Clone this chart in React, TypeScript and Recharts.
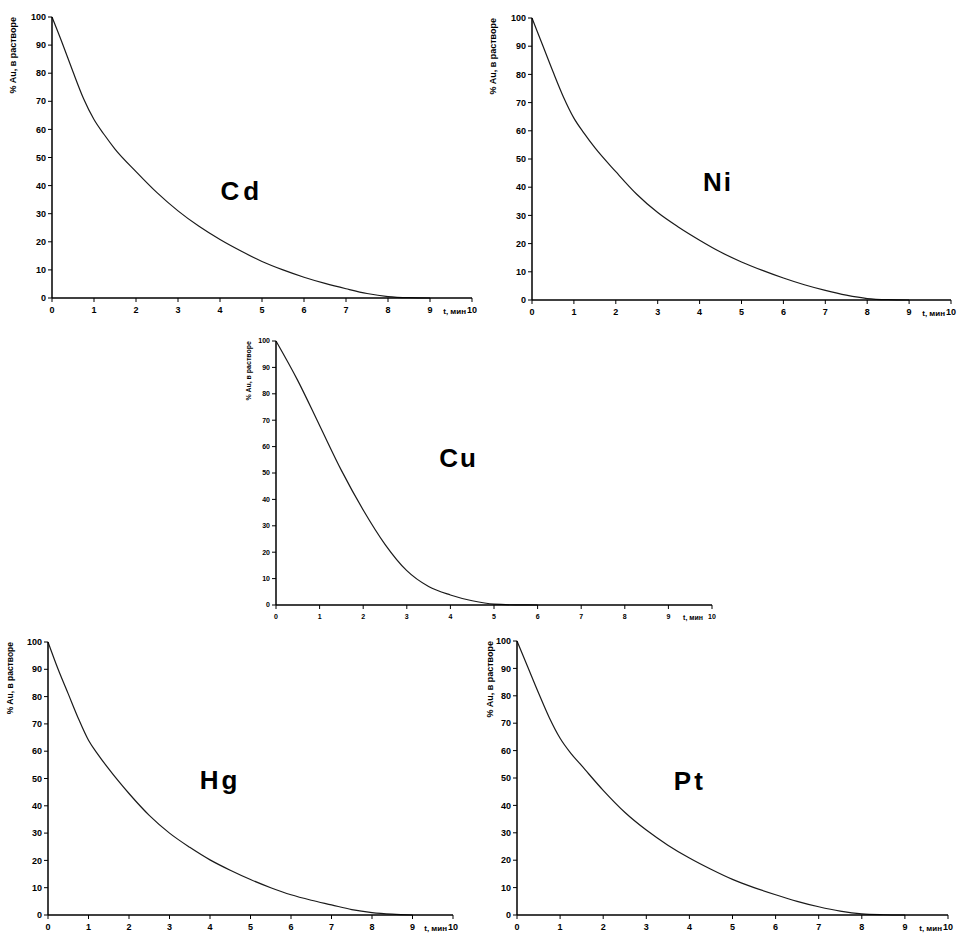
import React from 'react';
import { LineChart, Line, XAxis, YAxis, ReferenceDot, Label } from 'recharts';

// ---- data ----
const timesMain = [0, 0.25, 0.5, 0.75, 1, 1.25, 1.5, 2, 2.5, 3, 3.5, 4, 4.5, 5, 5.5, 6, 6.5, 7, 7.5, 8, 8.5, 9];
const cdValues = [100, 90.5, 80.5, 71, 63.5, 58, 53, 45, 37.5, 31, 25.5, 20.8, 16.7, 13, 10, 7.4, 5.2, 3.3, 1.6, 0.5, 0.1, 0];
const niValues = [100, 90.5, 81, 72, 64.5, 59, 54, 45.5, 37.5, 31, 25.8, 21.2, 17, 13.5, 10.5, 7.8, 5.4, 3.4, 1.7, 0.5, 0.1, 0];
const hgValues = [100, 90, 81, 72, 64, 58.5, 53.5, 44.5, 36.5, 30, 24.8, 20.2, 16.4, 13, 10, 7.4, 5.4, 3.7, 2, 0.9, 0.3, 0];
const ptValues = [100, 90.5, 81, 72, 64.5, 59, 54.5, 45.5, 37.5, 31, 25.5, 20.8, 16.7, 13, 10, 7.4, 5, 3, 1.4, 0.4, 0.1, 0];

const timesCu = [0, 0.5, 1, 1.5, 2, 2.5, 3, 3.5, 4, 4.5, 5, 5.5, 6];
const cuValues = [100, 85, 68, 51, 36, 23, 13, 7, 3.8, 1.6, 0.3, 0.05, 0];

const xTicks = [0, 1, 2, 3, 4, 5, 6, 7, 8, 9, 10];
const yTicks = [0, 10, 20, 30, 40, 50, 60, 70, 80, 90, 100];
const yAxisTitle = '% Au, в растворе';
const xAxisTitle = 't, мин';

const FONT = '"Liberation Sans", Arial, sans-serif';

type PanelProps = {
  times: number[];
  values: number[];
  x0: number;
  x10: number;
  y100: number;
  y0: number;
  name: string;
  nameX: number;
  nameY: number;
  nameSpacing: number;
  tickFont: number;
  yLabelDx: number;
  yLabelSize: number;
  xLabelGap: number;
  xLabelSize: number;
};

function Panel(p: PanelProps) {
  const yAxisW = 46;
  const mTop = 8;
  const mRight = 6;
  const mBottom = 4;
  const xAxisH = 20;
  const left = p.x0 - yAxisW;
  const top = p.y100 - mTop;
  const width = p.x10 - p.x0 + yAxisW + mRight;
  const height = p.y0 - p.y100 + mTop + xAxisH + mBottom;
  const data = p.times.map((t, i) => ({ t, v: p.values[i] }));
  const tickStyle = { fontSize: p.tickFont, fill: '#000', fontFamily: FONT, fontWeight: 'bold' as const };

  const yLabel = (props: any) => {
    const vb = props.viewBox || {};
    const cx = vb.x + vb.width - p.yLabelDx;
    const ty = vb.y;
    return (
      <text
        x={cx}
        y={ty}
        transform={`rotate(-90, ${cx}, ${ty})`}
        textAnchor="end"
        dominantBaseline="central"
        fontSize={p.yLabelSize}
        fontFamily={FONT}
        fontWeight="bold"
        fill="#000"
      >
        {yAxisTitle}
      </text>
    );
  };

  const xLabel = (props: any) => {
    const vb = props.viewBox || {};
    const ex = vb.x + vb.width - p.xLabelGap;
    const ty = vb.y + 10;
    return (
      <text
        x={ex}
        y={ty}
        dy="0.71em"
        textAnchor="end"
        fontSize={p.xLabelSize}
        fontFamily={FONT}
        fontWeight="bold"
        fill="#000"
      >
        {xAxisTitle}
      </text>
    );
  };

  return (
    <div style={{ position: 'absolute', left, top, width, height }}>
      <LineChart width={width} height={height} data={data} margin={{ top: mTop, right: mRight, bottom: mBottom, left: 0 }}>
        <XAxis
          dataKey="t"
          type="number"
          domain={[0, 10]}
          ticks={xTicks}
          interval={0}
          height={xAxisH}
          axisLine={{ stroke: '#000', strokeWidth: 1.5 }}
          tickLine={{ stroke: '#000' }}
          tickSize={4}
          tickMargin={5}
          tick={tickStyle}
        >
          <Label content={xLabel} />
        </XAxis>
        <YAxis
          type="number"
          domain={[0, 100]}
          ticks={yTicks}
          interval={0}
          width={yAxisW}
          axisLine={{ stroke: '#000', strokeWidth: 1.5 }}
          tickLine={{ stroke: '#000' }}
          tickSize={4}
          tickMargin={2}
          tick={tickStyle}
        >
          <Label content={yLabel} />
        </YAxis>
        <Line
          type="monotone"
          dataKey="v"
          stroke="#1a1a1a"
          strokeWidth={1.2}
          dot={false}
          isAnimationActive={false}
        />
        <ReferenceDot
          x={p.nameX}
          y={p.nameY}
          r={1}
          fill="none"
          stroke="none"
          ifOverflow="visible"
          label={{
            value: p.name,
            position: 'center',
            fontSize: 26,
            fontWeight: 'bold',
            fill: '#000',
            fontFamily: FONT,
            letterSpacing: p.nameSpacing,
          }}
        />
      </LineChart>
    </div>
  );
}

export default function App() {
  return (
    <div
      style={{
        position: 'absolute',
        left: 0,
        top: 0,
        width: 958,
        height: 934,
        overflow: 'hidden',
        background: '#fff',
      }}
    >
      <Panel times={timesMain} values={cdValues} x0={52} x10={472} y100={17} y0={298}
        name="Cd" nameX={4.52} nameY={38.3} nameSpacing={4} tickFont={9} yLabelDx={39} yLabelSize={9} xLabelGap={6} xLabelSize={8} />
      <Panel times={timesMain} values={niValues} x0={532} x10={951} y100={18} y0={300}
        name="Ni" nameX={4.44} nameY={41.8} nameSpacing={2} tickFont={9} yLabelDx={39} yLabelSize={9} xLabelGap={6} xLabelSize={8} />
      <Panel times={timesCu} values={cuValues} x0={276} x10={712} y100={341} y0={605}
        name="Cu" nameX={4.19} nameY={55.7} nameSpacing={2} tickFont={7} yLabelDx={28} yLabelSize={7} xLabelGap={9} xLabelSize={7} />
      <Panel times={timesMain} values={hgValues} x0={48} x10={453} y100={642} y0={915}
        name="Hg" nameX={4.25} nameY={49.4} nameSpacing={3} tickFont={9} yLabelDx={38} yLabelSize={8.5} xLabelGap={6} xLabelSize={8} />
      <Panel times={timesMain} values={ptValues} x0={517} x10={948} y100={641} y0={915}
        name="Pt" nameX={4.01} nameY={48.9} nameSpacing={3} tickFont={9} yLabelDx={27} yLabelSize={9} xLabelGap={6} xLabelSize={8} />
    </div>
  );
}
